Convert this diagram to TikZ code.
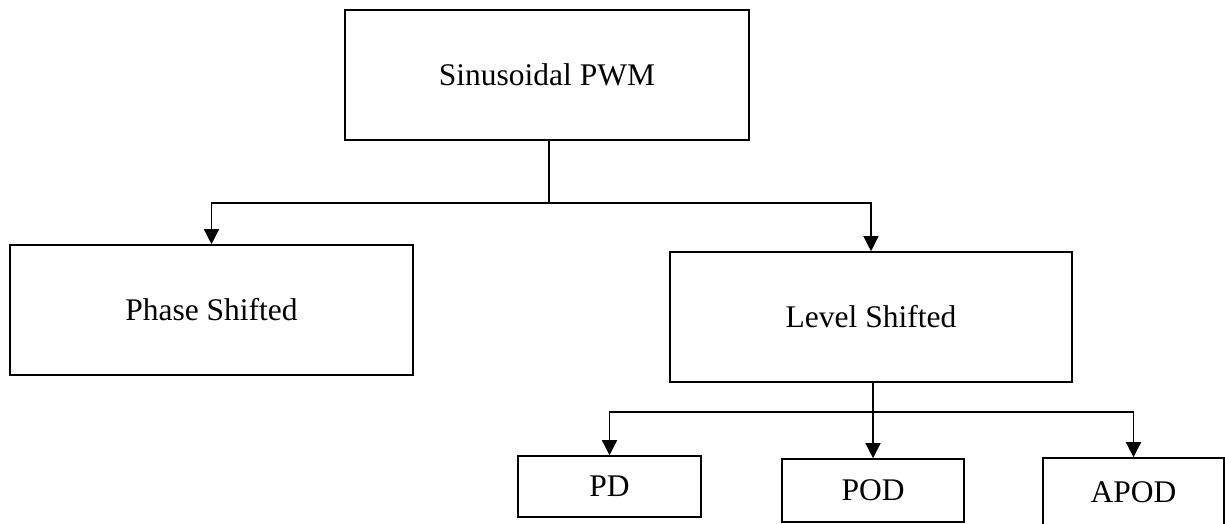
\documentclass[tikz,border=0pt]{standalone}
\usepackage{fontspec}
\setmainfont{Liberation Serif}
\usetikzlibrary{arrows.meta}
\begin{document}
\begin{tikzpicture}[x=1pt,y=-1pt,
  box/.style={draw=black,line width=1.6pt,rectangle,inner sep=0pt,
    font=\fontsize{31.5}{36}\selectfont},
  conn/.style={draw=black,line width=1.4pt},
  arr/.style={conn,-{Triangle[width=15pt,length=15pt]}}]
\useasboundingbox (0,0) rectangle (1225,524);
\clip (0,0) rectangle (1225,524);
\node[box,minimum width=404pt,minimum height=130pt] (top) at (547,75) {Sinusoidal PWM};
\node[box,minimum width=403pt,minimum height=130pt] (phase) at (211.5,310) {Phase Shifted};
\node[box,minimum width=402pt,minimum height=130pt] (level) at (871,317) {Level Shifted};
\node[box,minimum width=183pt,minimum height=61pt] (pd) at (609.5,486.5) {PD};
\node[box,minimum width=182pt,minimum height=63pt] (pod) at (873,490.5) {POD};
\node[box,minimum width=181pt,minimum height=68pt] (apod) at (1133.5,492) {APOD};
\coordinate (j1) at (549,203);
\coordinate (j2) at (873,412);
\draw[conn] (top.south -| j1) -- (j1);
\draw[arr] (j1) -| (phase.north);
\draw[arr] (j1) -| (level.north);
\draw[arr] (level.south -| j2) -- (pod.north);
\draw[arr] (j2) -| (pd.north);
\draw[arr] (j2) -| (apod.north);
\end{tikzpicture}
\end{document}
